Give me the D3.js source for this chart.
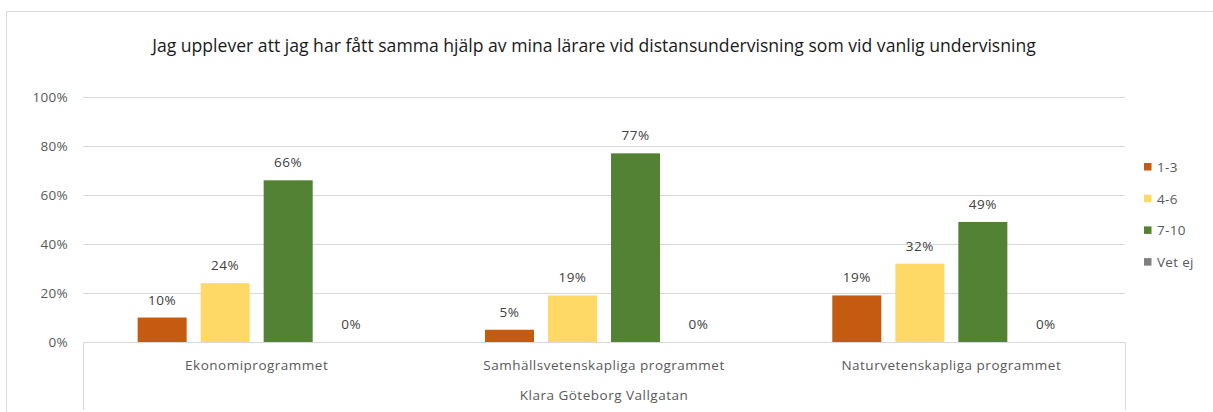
<!DOCTYPE html>
<html>
<head>
<meta charset="utf-8">
<script src="https://cdn.jsdelivr.net/npm/d3@7"></script>
<style>
  body { margin: 0; background: #fff; }
  text { font-family: "Open Sans", "Noto Sans", sans-serif; }
</style>
</head>
<body>
<div id="chart"></div>
<script>
const categories = ['Ekonomiprogrammet', 'Samhällsvetenskapliga programmet', 'Naturvetenskapliga programmet'];
const seriesNames = ['1-3', '4-6', '7-10', 'Vet ej'];
const values13 = [10, 5, 19];
const values46 = [24, 19, 32];
const values710 = [66, 77, 49];
const valuesVetEj = [0, 0, 0];
const yTicks = [0, 20, 40, 60, 80, 100];

const colors = ['#C55A11', '#FFD966', '#548235', '#7F7F7F'];
const seriesValues = [values13, values46, values710, valuesVetEj];

const width = 1213;
const height = 412;
const plot = { left: 83, right: 1125, top: 97, bottom: 342 };
const smallFont = 13.5;

const svg = d3.select('#chart')
    .append('svg')
    .attr('width', width)
    .attr('height', height);

// chart area border
svg.append('rect')
    .attr('x', 6.5).attr('y', 11.5)
    .attr('width', width + 10).attr('height', height + 10)
    .attr('fill', 'none')
    .attr('stroke', '#D9D9D9');

const x0 = d3.scaleBand()
    .domain(categories)
    .range([plot.left, plot.right]);

const x1 = d3.scaleBand()
    .domain(seriesNames)
    .range([0, x0.bandwidth()])
    .paddingInner(0.222)
    .paddingOuter(0.867);

const y = d3.scaleLinear()
    .domain([0, 100])
    .range([plot.bottom, plot.top]);

// gridlines
svg.append('g')
    .selectAll('line')
    .data(yTicks)
    .enter()
    .append('line')
    .attr('x1', plot.left).attr('x2', plot.right)
    .attr('y1', d => Math.round(y(d)) + 0.5)
    .attr('y2', d => Math.round(y(d)) + 0.5)
    .attr('stroke', '#D9D9D9')
    .attr('stroke-width', 1);

// y tick labels
svg.append('g')
    .selectAll('text')
    .data(yTicks)
    .enter()
    .append('text')
    .attr('x', 68)
    .attr('y', d => y(d) + 5)
    .attr('text-anchor', 'end')
    .attr('font-size', smallFont)
    .attr('letter-spacing', 0.3)
    .attr('fill', '#595959')
    .text(d => d + '%');

// category axis frame lines
[plot.left, plot.right].forEach(px => {
    svg.append('line')
        .attr('x1', px + 0.5).attr('x2', px + 0.5)
        .attr('y1', plot.bottom).attr('y2', 410)
        .attr('stroke', '#D9D9D9');
});

// bars
const groups = svg.append('g')
    .selectAll('g')
    .data(categories)
    .enter()
    .append('g')
    .attr('transform', d => `translate(${x0(d)},0)`);

groups.each(function(cat, ci) {
    const g = d3.select(this);
    const rows = seriesNames.map((s, si) => ({ s, si, v: seriesValues[si][ci] }));

    g.selectAll('rect')
        .data(rows)
        .enter()
        .append('rect')
        .attr('x', d => x1(d.s))
        .attr('y', d => y(d.v))
        .attr('width', x1.bandwidth())
        .attr('height', d => plot.bottom - y(d.v))
        .attr('fill', d => colors[d.si]);

    g.selectAll('text')
        .data(rows)
        .enter()
        .append('text')
        .attr('x', d => x1(d.s) + x1.bandwidth() / 2)
        .attr('y', d => y(d.v) - 13)
        .attr('text-anchor', 'middle')
        .attr('font-size', smallFont)
        .attr('letter-spacing', 0.5)
        .attr('fill', '#404040')
        .text(d => d.v + '%');
});

// category labels
svg.append('g')
    .selectAll('text')
    .data(categories)
    .enter()
    .append('text')
    .attr('x', d => x0(d) + x0.bandwidth() / 2)
    .attr('y', 370)
    .attr('text-anchor', 'middle')
    .attr('font-size', smallFont)
    .attr('letter-spacing', 0.5)
    .attr('fill', '#595959')
    .text(d => d);

svg.append('text')
    .attr('x', (plot.left + plot.right) / 2)
    .attr('y', 400)
    .attr('text-anchor', 'middle')
    .attr('font-size', smallFont)
    .attr('letter-spacing', 0.5)
    .attr('fill', '#595959')
    .text('Klara Göteborg Vallgatan');

// title
svg.append('text')
    .attr('x', 594)
    .attr('y', 52)
    .attr('text-anchor', 'middle')
    .attr('font-size', 17.6)
    .attr('fill', '#1a1a1a')
    .text('Jag upplever att jag har fått samma hjälp av mina lärare vid distansundervisning som vid vanlig undervisning');

// legend
const legend = svg.append('g')
    .selectAll('g')
    .data(seriesNames)
    .enter()
    .append('g')
    .attr('transform', (d, i) => `translate(1144,${167 + i * 31.7})`);

legend.append('rect')
    .attr('x', 0).attr('y', -4)
    .attr('width', 7.5).attr('height', 7.5)
    .attr('fill', (d, i) => colors[i]);

legend.append('text')
    .attr('x', 13)
    .attr('y', 5)
    .attr('font-size', smallFont)
    .attr('letter-spacing', 0.3)
    .attr('fill', '#595959')
    .text(d => d);
</script>
</body>
</html>
